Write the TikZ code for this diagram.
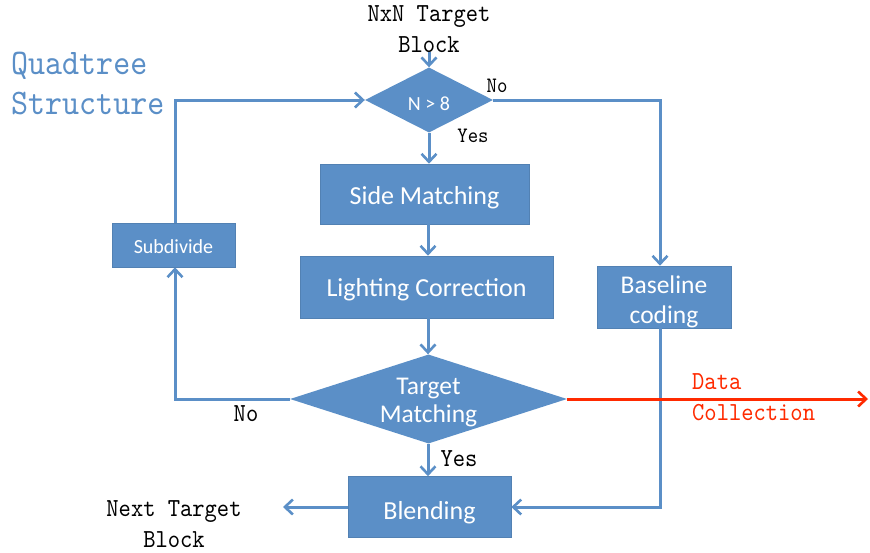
\documentclass[tikz,border=0pt]{standalone}
\usepackage{fontspec}
\setmainfont{Carlito}
\newfontfamily\monof[FakeStretch=0.9]{lmmono10-regular.otf}
\usetikzlibrary{shapes.geometric,arrows.meta}
\definecolor{boxblue}{HTML}{5B8FC7}
\definecolor{lineblue}{HTML}{5B8FC7}
\definecolor{redc}{HTML}{FF2A00}
\newcommand{\dn}[2]{\raisebox{-#1}[\height][\depth]{\begin{tabular}{@{}c@{}}#2\end{tabular}}}
\newcommand{\dz}[2]{\makebox[0pt]{\raisebox{-#1}[0pt][0pt]{\raisebox{-0.5\height}{\begin{tabular}{@{}c@{}}#2\end{tabular}}}}}
\tikzset{
  box/.style={draw=boxblue!90!black, line width=0.6pt, fill=boxblue, text=white, inner sep=0pt, anchor=center},
  dia/.style={diamond, fill=boxblue, text=white, inner sep=0pt, aspect=2},
  conn/.style={draw=lineblue, line width=3pt, -{Straight Barb[length=8pt,width=15pt,line width=2.6pt]}},
  lbl/.style={font=\monof\fontsize{26}{30}\selectfont, inner sep=0pt},
}
\begin{document}
\begin{tikzpicture}[x=1pt,y=-1pt]
\useasboundingbox (0,0) rectangle (870,552);
% nodes
\node[lbl, align=center] (src) at (429,29) {NxN Target\\[1pt]Block};
\node[font=\monof\fontsize{36}{40}\selectfont, text=boxblue, align=left, inner sep=0pt, anchor=west] (qt) at (11,83) {Quadtree\\Structure};
\node[dia, minimum width=128pt, minimum height=65pt, font=\fontsize{20}{22}\selectfont] (d1) at (429,100) {\dz{3pt}{N > 8}};
\node[box, minimum width=209pt, minimum height=60pt, font=\fontsize{26}{28}\selectfont] (sm) at (424.5,194) {\dn{5pt}{Side Matching}};
\node[box, minimum width=253pt, minimum height=62pt, font=\fontsize{26}{28}\selectfont] (lc) at (426.5,287) {\dn{4pt}{Lighting Correction}};
\node[box, minimum width=123pt, minimum height=44pt, font=\fontsize{20}{22}\selectfont] (sd) at (173.5,245) {\dn{4pt}{Subdivide}};
\node[box, minimum width=134pt, minimum height=62pt, font=\fontsize{25.5}{30}\selectfont] (bc) at (664,297) {\dn{5pt}{Baseline\\coding}};
\node[dia, minimum width=277pt, minimum height=89pt, font=\fontsize{25.5}{28}\selectfont] (d2) at (428.5,399) {\dz{-7pt}{Target\\Matching}};
\node[box, minimum width=163pt, minimum height=61pt, font=\fontsize{26}{28}\selectfont] (bl) at (429.5,507) {\dn{7pt}{Blending}};
\node[lbl, align=center] (nt) at (174,524) {Next Target\\[1pt]Block};
\node[lbl, text=redc, align=left, anchor=west] (dc) at (692,397) {Data\\[1pt]Collection};
% labels
\node[font=\monof\fontsize{22}{24}\selectfont, inner sep=0pt] (no1) at (497,86) {No};
\node[font=\monof\fontsize{22}{24}\selectfont, inner sep=0pt] (yes1) at (473,136) {Yes};
\node[lbl] (no2) at (246,414) {No};
\node[lbl] (yes2) at (459,459) {Yes};
% coordinates
\coordinate (c0) at (429,52);
\coordinate (c1) at (175,100);
\coordinate (c2) at (175,399);
\coordinate (c3) at (660,100);
\coordinate (c4) at (660,507);
\coordinate (c5) at (283,507);
\coordinate (c6) at (868,399);
% connectors
\draw[conn] (c0) -- (d1.north);
\draw[conn] (d1.south) -- (sm.north -| d1.south);
\draw[conn] (sm.south -| 428,0) -- (lc.north -| 428,0);
\draw[conn] (lc.south -| 428,0) -- (d2.north -| 428,0);
\draw[conn] (d2.south -| 428,0) -- (bl.north -| 428,0);
\draw[conn] (d2.west) -- (c2) -- (sd.south -| c2);
\draw[conn] (sd.north -| c1) -- (c1) -- (d1.west);
\draw[conn] (d1.east) -- (c3) -- (bc.north -| c3);
\draw[conn] (bc.south -| c4) -- (c4) -- (bl.east);
\draw[conn] (bl.west) -- (c5);
\draw[conn, draw=redc] (d2.east) -- (c6);
\end{tikzpicture}
\end{document}
